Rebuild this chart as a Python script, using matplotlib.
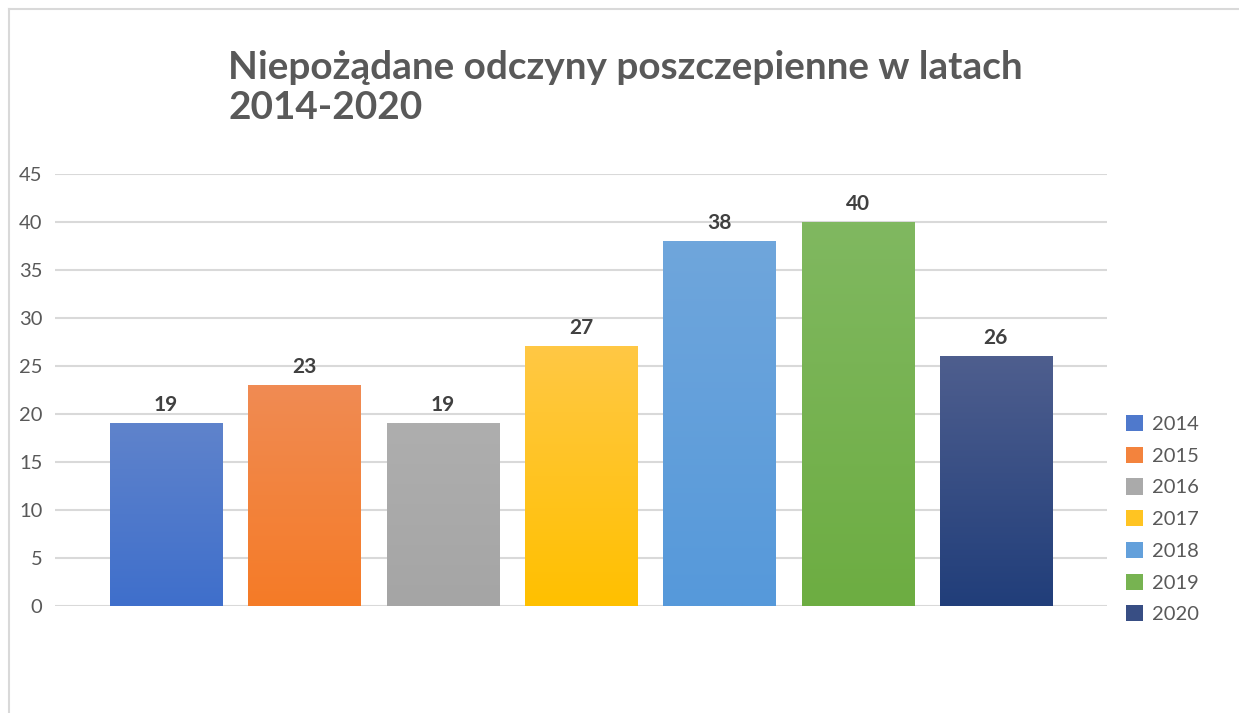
import numpy as np
import matplotlib
matplotlib.use("Agg")
import matplotlib.pyplot as plt
from matplotlib.patches import Patch
from matplotlib.lines import Line2D
from matplotlib.colors import to_rgb

years = ["2014", "2015", "2016", "2017", "2018", "2019", "2020"]
values = [19, 23, 19, 27, 38, 40, 26]
top_colors = ["#5F83CC", "#F08B53", "#AEAEAE", "#FFC844", "#6FA6DC", "#80B860", "#4E5E8E"]
bottom_colors = ["#3F6FCB", "#F57B27", "#A5A5A5", "#FFC000", "#5699DA", "#6DAD42", "#213E7A"]
title = "Niepożądane odczyny poszczepienne w latach\n2014-2020"

plt.rcParams['font.family'] = ['Lato', 'DejaVu Sans']

W, H = 1239, 713
fig = plt.figure(figsize=(W / 100, H / 100), dpi=100)

# outer frame (left and top edges visible)
fig.add_artist(Line2D([9 / W, 9 / W], [0, 1 - 9 / H], transform=fig.transFigure,
                      color="#D9D9D9", lw=1.5))
fig.add_artist(Line2D([9 / W, 1], [1 - 9 / H, 1 - 9 / H], transform=fig.transFigure,
                      color="#D9D9D9", lw=1.5))

ax = fig.add_axes([55 / W, (H - 606) / H, (1107 - 55) / W, (606 - 174) / H])

x = np.arange(len(values))
width = 0.81
bars = ax.bar(x, values, width=width, color="none", zorder=3)
for b, v, ct, cb in zip(bars, values, top_colors, bottom_colors):
    t = np.array(to_rgb(ct))
    bt = np.array(to_rgb(cb))
    n = 64
    f = np.linspace(0, 1, n)[:, None]
    grad = (t * (1 - f) + bt * f)[:, None, :]
    x0 = b.get_x()
    ax.imshow(grad, extent=(x0, x0 + b.get_width(), 0, v), aspect="auto",
              zorder=3, interpolation="bilinear")
    ax.annotate(str(v), (b.get_x() + b.get_width() / 2, v), xytext=(0, 6),
                textcoords="offset points", ha="center", va="bottom",
                fontsize=15, fontweight="bold", color="#404040", zorder=4)

ax.set_xlim(-0.803, 6.804)
ax.set_ylim(0, 45)
ax.set_yticks(np.arange(0, 46, 5))
ax.yaxis.grid(True, color="#D9D9D9", lw=1.5, zorder=0)
ax.set_xticks([])
for s in ax.spines.values():
    s.set_visible(False)
ax.tick_params(axis="y", length=0, pad=9, labelsize=14.5, labelcolor="#595959")

fig.text(228 / W, 1 - 50 / H, title, ha="left", va="top", fontsize=27.9,
         fontweight="bold", color="#595959", linespacing=1.18)

handles = []
for ct, cb in zip(top_colors, bottom_colors):
    mid = (np.array(to_rgb(ct)) + np.array(to_rgb(cb))) / 2
    handles.append(Patch(facecolor=mid, edgecolor="none"))
fig.legend(handles, years, loc="upper left", bbox_to_anchor=(1118 / W, 1 - 407 / H),
           frameon=False, fontsize=14.5, labelcolor="#595959",
           handlelength=0.85, handleheight=0.85, handletextpad=0.45,
           labelspacing=0.68, borderaxespad=0)

fig.savefig("out.png", dpi=100)
